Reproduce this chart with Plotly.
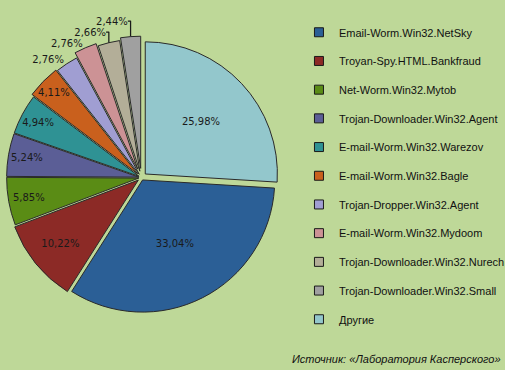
import plotly.graph_objects as go

labels = ["Email-Worm.Win32.NetSky", "Troyan-Spy.HTML.Bankfraud", "Net-Worm.Win32.Mytob",
          "Trojan-Downloader.Win32.Agent", "E-mail-Worm.Win32.Warezov", "E-mail-Worm.Win32.Bagle",
          "Trojan-Dropper.Win32.Agent", "E-mail-Worm.Win32.Mydoom", "Trojan-Downloader.Win32.Nurech",
          "Trojan-Downloader.Win32.Small", "Другие"]
values = [33.04, 10.22, 5.85, 5.24, 4.94, 4.11, 2.76, 2.76, 2.66, 2.44, 25.98]
colors = ["#2b5f96", "#8c2a26", "#5a8c15", "#5b5e96", "#2f9294", "#c9601d",
          "#a09ed2", "#cc9295", "#b3ae98", "#a0a0a0", "#93c7cc"]
pulls = [0.02, 0.03, 0.02, 0.02, 0.02, 0.04, 0.03, 0.07, 0.05, 0.07, 0.04]
positions = ["inside"] * 6 + ["outside"] * 4 + ["inside"]

FONT = "Liberation Sans, Arial, sans-serif"
bg = "#bed898"

fig = go.Figure()

for lab, col in zip(labels, colors):
    fig.add_trace(go.Scatter(
        x=[None], y=[None], mode="markers", name=lab, legendgroup=lab,
        marker=dict(symbol="square", size=9, color=col, line=dict(color="#1a1a1a", width=1)),
    ))

fig.add_trace(go.Pie(
    labels=labels, values=values, sort=False, direction="clockwise",
    rotation=values[-1] / 100 * 360,
    marker=dict(colors=colors, line=dict(color="#2a2a2a", width=1)),
    pull=pulls, textposition=positions,
    texttemplate="%{value:.2f}%", insidetextorientation="horizontal",
    textfont=dict(family="DejaVu Sans, sans-serif", size=10, color="#1a1a1a"),
    showlegend=False, hoverinfo="label+value",
    domain=dict(x=[0.0, 0.56], y=[0.10, 0.94]),
))

fig.update_layout(
    width=505, height=370, margin=dict(l=0, r=0, t=0, b=0, autoexpand=False),
    paper_bgcolor=bg, plot_bgcolor=bg, separators=",.",
    uniformtext=dict(minsize=10, mode="show"),
    xaxis=dict(visible=False), yaxis=dict(visible=False),
    legend=dict(x=0.592, y=0.952, xanchor="left", yanchor="top", bgcolor="rgba(0,0,0,0)",
                font=dict(family=FONT, size=11, color="#111"), tracegroupgap=9.7,
                traceorder="grouped", itemwidth=30),
    annotations=[dict(text="<i>Источник: «Лаборатория Касперского»</i>", x=0.997, y=0.0,
                      xref="paper", yref="paper", xanchor="right", yanchor="bottom",
                      yshift=3, showarrow=False, font=dict(family=FONT, size=11, color="#111"))],
)

fig.write_html("out.html", config={"displayModeBar": False},
               post_script="document.body.style.margin='0';")
